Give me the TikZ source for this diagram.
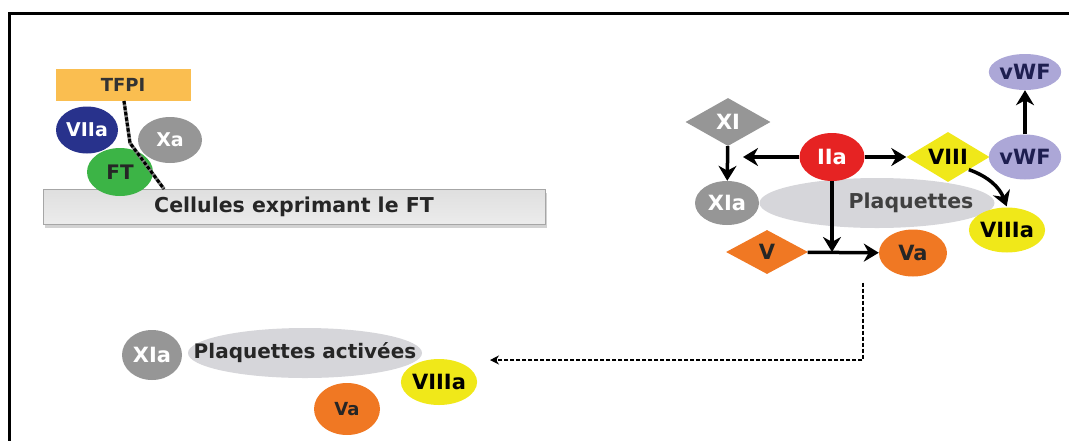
\documentclass[tikz,border=0pt]{standalone}
\usepackage{fontspec}
\setmainfont{DejaVu Sans}
\usepackage{tikz}
\usetikzlibrary{arrows.meta,positioning,shapes.geometric,shadows}
\definecolor{myorange}{RGB}{240,120,35}
\definecolor{mygold}{RGB}{250,190,80}
\definecolor{myblue}{RGB}{40,50,140}
\definecolor{mygray}{RGB}{150,150,150}
\definecolor{mygreen}{RGB}{60,180,70}
\definecolor{myred}{RGB}{230,35,35}
\definecolor{myyellow}{RGB}{240,232,25}
\definecolor{mylilac}{RGB}{172,167,215}
\definecolor{mynavy}{RGB}{30,30,80}
\definecolor{mysilver}{RGB}{214,214,218}

\tikzset{
  factor/.style={ellipse, inner sep=0pt, font=\fontsize{21}{22}\selectfont\bfseries},
  zymo/.style={diamond, aspect=1.7, inner sep=0pt, font=\fontsize{21}{22}\selectfont\bfseries},
  arr/.style={line width=3.5pt, -{Stealth[length=15pt,width=18pt]}},
  dasharr/.style={line width=2.5pt, dashed, dash pattern=on 4pt off 2pt, -{Stealth[length=9pt,width=9pt]}}
}

\begin{document}
\begin{tikzpicture}[x=1pt, y=-1pt]
  \useasboundingbox (0,0) rectangle (1069,440);
  % Frame
  \draw[line width=3pt] (9,445) -- (9,13) -- (1075,13);

  % Cells with TF
  \node[draw=gray!70, top color=gray!25, middle color=white, bottom color=gray!15,
        drop shadow={shadow xshift=2pt, shadow yshift=-3pt, fill=gray!70},
        minimum width=502pt, minimum height=35pt, font=\fontsize{20.5}{21}\selectfont\bfseries,
        text=black!85] (cells) at (294,207) {Cellules exprimant le FT};
  \node[fill=mygold, minimum width=135pt, minimum height=32pt,
        font=\fontsize{18}{19}\selectfont\bfseries, text=black!80] (tfpi) at (123,85) {TFPI};
  \node[factor, fill=myblue, text=white, minimum width=62pt, minimum height=47pt,
        font=\fontsize{19}{20}\selectfont\bfseries] (viia) at (87,130) {VIIa};
  \node[factor, fill=mygray, text=white, minimum width=64pt, minimum height=46pt,
        font=\fontsize{19}{20}\selectfont\bfseries] (xa) at (170,140) {Xa};
  \node[factor, fill=mygreen, text=black!85, minimum width=66pt, minimum height=48pt,
        font=\fontsize{20}{21}\selectfont\bfseries] (ft) at (120,172) {FT};
  \coordinate (c1) at (124,101);
  \coordinate (c2) at (130,143);
  \coordinate (c3) at (164,189);
  \draw[gray, line width=3.5pt] (c1) -- (c2) -- (c3);
  \draw[black, line width=3pt, dashed, dash pattern=on 3.5pt off 2pt] (c1) -- (c2) -- (c3);

  % Platelet activation
  \node[ellipse, fill=mysilver, minimum width=235pt, minimum height=50pt,
        label={[xshift=34pt, text=black!75, font=\fontsize{20.5}{21}\selectfont\bfseries]center:Plaquettes}]
    (plaq) at (877,203) {};
  \node[factor, fill=mygray, text=white, minimum width=64pt, minimum height=44pt] (xia) at (727,203) {XIa};
  \node[zymo, fill=mygray, text=white, minimum width=85pt, minimum height=48pt] (xi) at (728,122) {XI};
  \node[factor, fill=myred, text=white, minimum width=65pt, minimum height=48pt] (iia) at (832,157) {IIa};
  \node[zymo, fill=myyellow, text=black, minimum width=83pt, minimum height=50pt] (viii) at (948,157) {VIII};
  \node[factor, fill=mylilac, text=mynavy, minimum width=66pt, minimum height=45pt] (vwf) at (1025,157) {vWF};
  \node[factor, fill=mylilac, text=mynavy, minimum width=66pt, minimum height=36pt] (vwftop) at (1025,72) {vWF};
  \node[factor, fill=myyellow, text=black, minimum width=66pt, minimum height=45pt] (viiia) at (1007,230) {VIIIa};
  \node[zymo, fill=myorange, text=black!85, minimum width=82pt, minimum height=44pt] (v) at (767,252) {V};
  \node[factor, fill=myorange, text=black!85, minimum width=68pt, minimum height=47pt] (va) at (913,253) {Va};

  \coordinate (xitip) at (743,157);
  \draw[arr] (iia) -- (xitip);
  \draw[arr] (iia) -- (viii);
  \draw[arr] (xi) -- (xia);
  \draw[arr] (vwf) -- (vwftop);
  \draw[arr, shorten >=1pt] (viii.south east) to[bend left=25] (viiia.north);
  \draw[arr] (v) -- (va);
  \draw[arr] (iia) -- (iia |- v);

  % Activated platelets
  \node[ellipse, fill=mysilver, minimum width=234pt, minimum height=50pt,
        label={[text=black!85, font=\fontsize{20}{21}\selectfont\bfseries]center:Plaquettes activées}]
    (plaqact) at (305,353) {};
  \node[factor, fill=mygray, text=white, minimum width=60pt, minimum height=50pt] (xiab) at (152,355) {XIa};
  \node[factor, fill=myyellow, text=black, minimum width=68pt, minimum height=46pt] (viiiab) at (439,382) {VIIIa};
  \node[factor, fill=myorange, text=black!85, minimum width=66pt, minimum height=52pt,
        font=\fontsize{18}{19}\selectfont\bfseries] (vab) at (347,409) {Va};

  \coordinate (dcorner) at (863,360);
  \coordinate (dend) at (490,360);
  \draw[dasharr] (dcorner |- va.south) ++(0,6) -- (dcorner) -- (dend);
\end{tikzpicture}
\end{document}
